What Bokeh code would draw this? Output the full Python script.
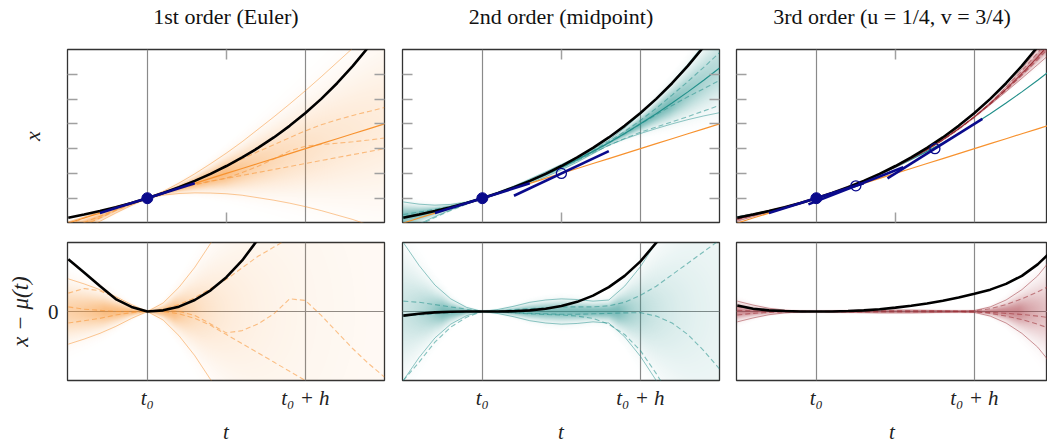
import numpy as np
from bokeh.plotting import figure
from bokeh.layouts import column, row
from bokeh.models import Range1d, FixedTicker, LinearAxis, Grid
from bokeh.embed import file_html
from bokeh.resources import INLINE

# ---------------- data ----------------
T = [-0.5, -0.4, -0.3, -0.2, -0.1, 0.0, 0.1, 0.2, 0.3, 0.4, 0.5,
     0.6, 0.7, 0.8, 0.9, 1.0, 1.1, 1.2, 1.3, 1.4, 1.5]
TRUTH = [0.607, 0.670, 0.741, 0.819, 0.905, 1.000, 1.105, 1.221, 1.350, 1.492, 1.649,
         1.822, 2.014, 2.226, 2.460, 2.718, 3.004, 3.320, 3.669, 4.055, 4.482]
EULER = [0.50, 0.60, 0.70, 0.80, 0.90, 1.00, 1.10, 1.20, 1.30, 1.40, 1.50,
         1.60, 1.70, 1.80, 1.90, 2.00, 2.10, 2.20, 2.30, 2.40, 2.50]
MEAN1 = [0.38, 0.50, 0.63, 0.765, 0.885, 1.00, 1.10, 1.20, 1.30, 1.40, 1.50,
         1.60, 1.70, 1.80, 1.90, 2.00, 2.10, 2.20, 2.30, 2.40, 2.50]
MEAN2 = [0.625, 0.680, 0.745, 0.820, 0.905, 1.000, 1.105, 1.220, 1.345, 1.480, 1.625,
         1.780, 1.945, 2.120, 2.305, 2.500, 2.705, 2.920, 3.145, 3.380, 3.625]
MEAN3 = [0.581, 0.658, 0.736, 0.817, 0.905, 1.000, 1.105, 1.219, 1.345, 1.482, 1.632,
         1.797, 1.979, 2.179, 2.399, 2.641, 2.909, 3.200, 3.514, 3.850, 4.212]
TWOSD1 = [0.142, 0.120, 0.095, 0.065, 0.030, 0.000, 0.037, 0.105, 0.192, 0.296, 0.410,
          0.540, 0.690, 0.840, 1.000, 1.170, 1.350, 1.540, 1.730, 1.940, 2.150]
TWOSD2 = [0.300, 0.200, 0.115, 0.055, 0.018, 0.000, 0.009, 0.023, 0.040, 0.050, 0.055,
          0.052, 0.045, 0.050, 0.110, 0.195, 0.300, 0.420, 0.560, 0.720, 0.900]
TWOSD3 = [0.045, 0.028, 0.014, 0.006, 0.002, 0.000, 0.002, 0.004, 0.005, 0.006, 0.006,
          0.006, 0.005, 0.004, 0.003, 0.004, 0.020, 0.050, 0.095, 0.155, 0.240]
# sample paths, as deviations from the posterior mean
S1A = [0.08, 0.10, 0.09, 0.06, 0.02, 0.0, 0.01, 0.03, 0.06, 0.10, 0.14,
       0.19, 0.24, 0.28, 0.32, 0.36, 0.38, 0.38, 0.37, 0.35, 0.33]
S1B = [-0.05, -0.04, -0.03, -0.015, -0.005, 0.0, 0.005, 0.0, -0.017, -0.054, -0.093,
       -0.083, -0.054, -0.010, 0.055, 0.048, -0.017, -0.090, -0.162, -0.227, -0.285]
S1C = [0.02, 0.01, 0.005, 0.0, 0.0, 0.0, 0.0, -0.01, -0.03, -0.06, -0.10,
       -0.14, -0.18, -0.22, -0.26, -0.30, -0.34, -0.38, -0.42, -0.46, -0.50]
S2A = [0.045, 0.040, 0.030, 0.020, 0.010, 0.0, 0.003, 0.008, 0.012, 0.016, 0.020,
       0.020, 0.020, 0.025, 0.040, 0.070, 0.110, 0.160, 0.210, 0.260, 0.310]
S2B = [-0.300, -0.220, -0.133, -0.068, -0.025, 0.0, -0.002, -0.005, -0.008, -0.010, -0.012,
       -0.012, -0.010, -0.008, -0.006, -0.005, -0.020, -0.050, -0.100, -0.170, -0.250]
S2C = [-0.020, -0.015, -0.010, -0.005, -0.002, 0.0, -0.002, -0.006, -0.010, -0.013, -0.015,
       -0.020, -0.030, -0.055, -0.100, -0.170, -0.270, -0.380, -0.500, -0.620, -0.750]
S3A = [0.020, 0.012, 0.006, 0.002, 0.001, 0.0, 0.001, 0.002, 0.003, 0.003, 0.003,
       0.003, 0.003, 0.002, 0.002, 0.003, 0.012, 0.030, 0.055, 0.085, 0.120]
S3B = [-0.015, -0.008, -0.004, -0.002, -0.001, 0.0, -0.001, -0.002, -0.002, -0.002, -0.002,
       -0.002, -0.002, -0.001, -0.001, -0.002, -0.004, -0.008, -0.013, -0.020, -0.030]
S3C = [0.005, 0.003, 0.001, 0.0, 0.0, 0.0, 0.0, 0.001, 0.001, 0.001, 0.001,
       0.001, 0.001, 0.001, 0.0, -0.001, -0.008, -0.020, -0.035, -0.055, -0.080]
# Runge-Kutta stages: evaluation time, state, gradient
STAGE1_T, STAGE1_X, STAGE1_F = [0.0], [1.0], [1.0]
STAGE2_T, STAGE2_X, STAGE2_F = [0.0, 0.5], [1.0, 1.5], [1.0, 1.5]
STAGE3_T, STAGE3_X, STAGE3_F = [0.0, 0.25, 0.75], [1.0, 1.25, 2.0], [1.0, 1.25, 2.0]
TITLES = ["1st order (Euler)", "2nd order (midpoint)", "3rd order (u = 1/4, v = 3/4)"]
X_TICK_LABELS = {0: "t\u2080", 1: "t\u2080 + h"}
Y_TICKS_TOP = [1.0, 1.5, 2.0, 2.5, 3.0, 3.5]

# ---------------- style ----------------
FONT = "Liberation Serif"
NAVY = "#0a0a8c"
ORANGE = "#f7922f"
TEAL = "#23908b"
RED = "#9c2f37"
BAND_RGB = [(247, 146, 47), (36, 144, 139), (168, 58, 68)]
LINE_COL = [ORANGE, TEAL, RED]
GRID_COL = "#8a8a8a"
X0 = -0.505
FRAME_W = [317, 317, 311]
PX_PER_T = 317 / (1.5 - X0)
LEFT_B = [67, 9, 8]
RIGHT_B = [9, 9, 0]
TOP_FH, BOT_FH = 173, 138
Y_TOP = (0.51, 4.0)
Y_BOT = (-0.3, 0.3)
HALF_TAN = 0.3

panels = [
    dict(mean=MEAN1, sd2=TWOSD1, samples=[S1A, S1B, S1C], st=(STAGE1_T, STAGE1_X, STAGE1_F)),
    dict(mean=MEAN2, sd2=TWOSD2, samples=[S2A, S2B, S2C], st=(STAGE2_T, STAGE2_X, STAGE2_F)),
    dict(mean=MEAN3, sd2=TWOSD3, samples=[S3A, S3B, S3C], st=(STAGE3_T, STAGE3_X, STAGE3_F)),
]

Tn = np.array(T)


def density_image(mean, sd2, x1, yr, ncols, nrows, rgb, zero_center):
    tc = X0 + (np.arange(ncols) + 0.5) * (x1 - X0) / ncols
    yc = yr[0] + (np.arange(nrows) + 0.5) * (yr[1] - yr[0]) / nrows
    m = np.zeros_like(tc) if zero_center else np.interp(tc, Tn, mean)
    s = np.interp(tc, Tn, sd2) / 2.0
    pxu = nrows / (yr[1] - yr[0])
    s_px = s * pxu
    s_eff = np.sqrt(s ** 2 + (0.7 / pxu) ** 2)
    z = (yc[:, None] - m[None, :]) / s_eff[None, :]
    w = np.minimum(1.0, (10.0 / np.maximum(s_px, 1e-6)) ** 0.75)
    a = 0.6 * np.exp(-0.5 * z ** 2) * w[None, :]
    img = np.empty((nrows, ncols), dtype=np.uint32)
    v = img.view(dtype=np.uint8).reshape((nrows, ncols, 4))
    v[..., 0], v[..., 1], v[..., 2] = rgb
    v[..., 3] = np.clip(a * 255, 0, 255).astype(np.uint8)
    return img


def tick_axis(ticks):
    return LinearAxis(ticker=FixedTicker(ticks=ticks, minor_ticks=[]),
                      major_tick_in=10, major_tick_out=0, minor_tick_in=0, minor_tick_out=0,
                      major_label_text_font_size="0px", major_label_text_color=None,
                      major_label_standoff=0,
                      axis_line_color=None, major_tick_line_color="#a0a0a0",
                      major_tick_line_width=1.5)


def base_fig(k, fh, yr, top_b, bot_b):
    x1 = X0 + FRAME_W[k] / PX_PER_T
    p = figure(frame_width=FRAME_W[k], frame_height=fh,
               x_range=Range1d(X0, x1), y_range=Range1d(*yr),
               x_axis_type=None, y_axis_type=None, toolbar_location=None,
               output_backend="svg",
               min_border_left=LEFT_B[k], min_border_right=RIGHT_B[k],
               min_border_top=top_b, min_border_bottom=bot_b,
               outline_line_color="#333333", outline_line_width=1.3,
               background_fill_color="white", border_fill_color="white")
    p.add_layout(Grid(dimension=0, ticker=FixedTicker(ticks=[0, 1], minor_ticks=[]),
                      grid_line_color=GRID_COL, grid_line_width=1.2))
    return p, x1


tops, bots = [], []
for k, pan in enumerate(panels):
    mean = np.array(pan["mean"])
    sd2 = np.array(pan["sd2"])
    col = LINE_COL[k]
    rgb = BAND_RGB[k]

    # ---------- top row ----------
    p, x1 = base_fig(k, TOP_FH, Y_TOP, 49, 10)
    la = tick_axis(Y_TICKS_TOP)
    if k == 0:
        la.axis_label = "x"
        la.axis_label_text_font = FONT
        la.axis_label_text_font_style = "italic"
        la.axis_label_text_font_size = "22px"
        la.axis_label_text_color = "#222222"
        la.axis_label_standoff = 23
    p.add_layout(la, "left")
    if k < 2:
        p.add_layout(tick_axis(Y_TICKS_TOP), "right")
    p.add_layout(tick_axis([0.5]), "below")
    # the upper axis carries the panel title as its label
    ta = tick_axis([0.5])
    ta.axis_label = TITLES[k]
    ta.axis_label_text_font = FONT
    ta.axis_label_text_font_style = "normal"
    ta.axis_label_text_font_size = "22px"
    ta.axis_label_text_color = "#111111"
    ta.axis_label_standoff = 21
    p.add_layout(ta, "above")

    img = density_image(mean, sd2, x1, Y_TOP, FRAME_W[k], TOP_FH, rgb, False)
    p.image_rgba(image=[img], x=X0, y=Y_TOP[0], dw=x1 - X0, dh=Y_TOP[1] - Y_TOP[0])
    p.line(T, mean + sd2, line_color=col, line_alpha=0.5, line_width=1.0)
    p.line(T, mean - sd2, line_color=col, line_alpha=0.5, line_width=1.0)
    for s in pan["samples"]:
        p.line(T, mean + np.array(s), line_color=col, line_alpha=0.55,
               line_width=1.1, line_dash="5 3")
    p.line(T, EULER, line_color=ORANGE, line_width=1.2)
    if k >= 1:
        p.line(T, MEAN2, line_color=TEAL, line_width=1.2)
    if k == 2:
        p.line(T, MEAN3, line_color=RED, line_width=1.0)
    p.line(T, TRUTH, line_color="black", line_width=2.6)
    st_t, st_x, st_f = (np.array(a) for a in pan["st"])
    p.segment(x0=st_t - HALF_TAN, y0=st_x - HALF_TAN * st_f,
              x1=st_t + HALF_TAN, y1=st_x + HALF_TAN * st_f,
              line_color=NAVY, line_width=2.6)
    if len(st_t) > 1:
        p.scatter(st_t[1:], st_x[1:], size=10, fill_color=None,
                  line_color=NAVY, line_width=1.3)
    p.scatter(st_t[:1], st_x[:1], size=11, fill_color=NAVY, line_color=NAVY)
    tops.append(p)

    # ---------- bottom row ----------
    q, x1 = base_fig(k, BOT_FH, Y_BOT, 10, 62)
    q.add_layout(Grid(dimension=1, ticker=FixedTicker(ticks=[0], minor_ticks=[]),
                      grid_line_color=GRID_COL, grid_line_width=1.2))
    xa = LinearAxis(ticker=FixedTicker(ticks=[0, 1], minor_ticks=[]),
                    major_label_overrides=X_TICK_LABELS,
                    major_tick_in=0, major_tick_out=0, minor_tick_in=0, minor_tick_out=0,
                    axis_line_color=None,
                    major_label_text_font=FONT, major_label_text_font_style="italic",
                    major_label_text_font_size="21px", major_label_text_color="#222222",
                    major_label_standoff=5,
                    axis_label="t", axis_label_text_font=FONT,
                    axis_label_text_font_style="italic", axis_label_text_font_size="21px",
                    axis_label_text_color="#222222", axis_label_standoff=7)
    q.add_layout(xa, "below")
    if k == 0:
        ya = LinearAxis(ticker=FixedTicker(ticks=[0], minor_ticks=[]),
                        major_tick_in=0, major_tick_out=0, minor_tick_in=0, minor_tick_out=0,
                        axis_line_color=None,
                        major_label_text_font=FONT, major_label_text_font_size="21px",
                        major_label_text_color="#222222", major_label_standoff=9,
                        axis_label="x \u2212 \u03bc(t)", axis_label_text_font=FONT,
                        axis_label_text_font_style="italic", axis_label_text_font_size="23px",
                        axis_label_text_color="#222222", axis_label_standoff=12)
        q.add_layout(ya, "left")
    img = density_image(mean, sd2, x1, Y_BOT, FRAME_W[k], BOT_FH, rgb, True)
    q.image_rgba(image=[img], x=X0, y=Y_BOT[0], dw=x1 - X0, dh=Y_BOT[1] - Y_BOT[0])
    q.line(T, sd2, line_color=col, line_alpha=0.5, line_width=1.0)
    q.line(T, -sd2, line_color=col, line_alpha=0.5, line_width=1.0)
    for s in pan["samples"]:
        q.line(T, s, line_color=col, line_alpha=0.55, line_width=1.1, line_dash="5 3")
    q.line(T, np.array(TRUTH) - mean, line_color="black", line_width=2.6)
    bots.append(q)

layout = column(row(*tops), row(*bots))
open("out.html", "w").write(file_html(layout, INLINE))
